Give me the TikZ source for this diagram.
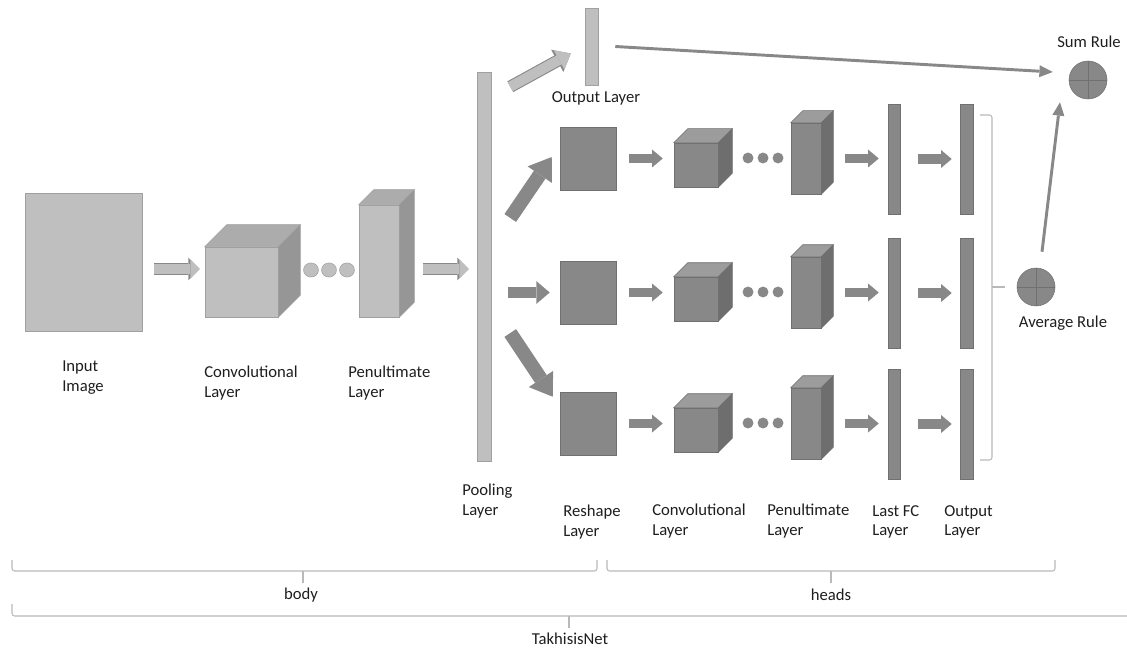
\documentclass[tikz,border=0pt]{standalone}
\usepackage{fontspec}
\setmainfont{Carlito}
\usetikzlibrary{arrows.meta,fit}

\definecolor{lightfill}{RGB}{191,191,191}
\definecolor{lightedge}{RGB}{160,160,160}
\definecolor{lighttop}{RGB}{172,172,172}
\definecolor{lightside}{RGB}{150,150,150}
\definecolor{darkfill}{RGB}{136,136,136}
\definecolor{darkedge}{RGB}{112,112,112}
\definecolor{darktop}{RGB}{156,156,156}
\definecolor{darkside}{RGB}{110,110,110}
\definecolor{bracegray}{RGB}{185,185,185}
\definecolor{labeltext}{RGB}{30,30,30}

% front face is a node, top and side faces hang off its corners
\newcommand{\layercube}[5]{%
  \node[fit={(#2) (#3)}, inner sep=0pt, draw=#5edge, fill=#5fill] (#1) {};
  \filldraw[draw=#5edge, fill=#5top] (#1.north west) -- ([shift={(#4,-#4)}]#1.north west)
    -- ([shift={(#4,-#4)}]#1.north east) -- (#1.north east) -- cycle;
  \filldraw[draw=#5edge, fill=#5side] (#1.north east) -- ([shift={(#4,-#4)}]#1.north east)
    -- ([shift={(#4,-#4)}]#1.south east) -- (#1.south east) -- cycle;
}

\tikzset{
  bodybox/.style={draw=lightedge, fill=lightfill, inner sep=0pt},
  headbox/.style={draw=darkedge, fill=darkfill, inner sep=0pt},
  bodyarrow/.style={draw=lightfill, line width=7pt,
    -{Triangle[width=14.5pt,length=7pt,line width=0pt]},
    preaction={draw=lightedge!85!black, line width=8.6pt,
      -{Triangle[width=17pt,length=8.6pt,line width=0pt]}}},
  toparrow/.style={draw=lightfill, line width=7.6pt,
    -{Triangle[width=16.5pt,length=10pt,line width=0pt]},
    preaction={draw=lightedge!85!black, line width=9.2pt,
      -{Triangle[width=19pt,length=11.5pt,line width=0pt]}}},
  bigarrow/.style={draw=darkfill, line width=10.5pt,
    -{Triangle[width=22pt,length=16pt,line width=0pt]}},
  midarrow/.style={draw=darkfill, line width=8pt,
    -{Triangle[width=17pt,length=10pt,line width=0pt]}},
  headarrow/.style={draw=darkfill, line width=7pt,
    -{Triangle[width=13.5pt,length=8pt,line width=0pt]}},
  rulearrow/.style={draw=darkfill, line width=2.2pt,
    -{Triangle[width=9pt,length=10pt,line width=0pt]}},
  rule/.style={circle, minimum size=28.5pt, inner sep=0pt, draw=darkedge, fill=darkfill},
  brace/.style={draw=bracegray, line width=0.8pt, rounded corners=2pt},
  lbl/.style={font=\fontsize{12.5}{14.5}\selectfont, text=labeltext, inner sep=0pt,
    align=left, anchor=north west},
  lblc/.style={font=\fontsize{12.5}{14.5}\selectfont, text=labeltext, inner sep=0pt}
}

\begin{document}
\begin{tikzpicture}[x=0.75pt, y=-0.75pt]
  \useasboundingbox (0,0) rectangle (1127,649);

  % body
  \node[bodybox, fit={(25,193) (142,331)}] (img) {};
  \layercube{conv}{205,247}{278,317}{22}{light}
  \foreach \cx in {311,329,347}
    \filldraw[fill=lightfill, draw=lightedge] (\cx,270) ellipse [x radius=5.6pt, y radius=5.3pt];
  \layercube{pen}{359,205}{399,317}{15}{light}
  \node[bodybox, fit={(477,72) (491,461)}] (pool) {};
  \node[bodybox, fit={(585,8) (598,85)}] (outtop) {};

  \draw[bodyarrow] ([shift={(12,7)}]img.east) -- ([shift={(-5,-13)}]conv.west);
  \draw[bodyarrow] ([shift={(24,8)}]pen.east) -- ([shift={(-8,2.5)}]pool.west);
  \draw[toparrow] ([shift={(19,15)}]pool.north east) -- ([shift={(-14,7)}]outtop.west);

  % heads
  \foreach \r/\yc in {1/158,2/292,3/423}{
    \node[headbox, fit={(560,\yc-31) (616,\yc+32)}] (reshape\r) {};
    \layercube{hconv\r}{674,\yc-15}{718,\yc+29}{14}{dark}
    \foreach \cx in {748,763,778}
      \fill[darkfill] (\cx,\yc) circle [radius=4.1pt];
    \layercube{hpen\r}{791,\yc-35}{821,\yc+36}{12}{dark}
    \node[headbox, fit={(888,\yc-54) (900,\yc+56)}] (fc\r) {};
    \node[headbox, fit={(960,\yc-54) (973,\yc+56)}] (out\r) {};
    \draw[headarrow] ([xshift=9.75pt]reshape\r.east) -- ([xshift=-8.25pt]reshape\r.east -| hconv\r.west);
    \draw[headarrow] ([xshift=18pt]hpen\r.east) -- ([xshift=-6.75pt]hpen\r.east -| fc\r.west);
    \draw[headarrow] ([xshift=13.5pt]fc\r.east) -- ([xshift=-6pt]fc\r.east -| out\r.west);
  }

  \draw[bigarrow] ([shift={(19,-48.5)}]pool.east) -- ([shift={(-8,-1.5)}]reshape1.west);
  \draw[midarrow] ([xshift=12.75pt]pool.east |- reshape2.west) -- ([xshift=-7.5pt]reshape2.west);
  \draw[bigarrow] ([shift={(19,66.5)}]pool.east) -- ([shift={(-7,5)}]reshape3.north west);

  % fusion
  \node[rule] (sum) at (1088,80) {};
  \draw[darkedge, line width=0.6pt] (sum.north) -- (sum.south) (sum.west) -- (sum.east);
  \node[rule] (avg) at (1036,287) {};
  \draw[darkedge, line width=0.6pt] (avg.north) -- (avg.south) (avg.west) -- (avg.east);
  \draw[rulearrow] ([xshift=12.75pt]outtop.east) -- ([shift={(-16,-8)}]sum.west);
  \draw[rulearrow] ([shift={(6,-16)}]avg.north) -- ([shift={(-28,3)}]sum.south);
  \draw[brace] (980,115) -- (992,115) -- (992,460) -- (980,460);
  \draw[brace] (992,287) -- ([xshift=-9pt]avg.west);

  % labels
  \node[lblc] (outtoplbl) at (596,98) {Output Layer};
  \node[lblc] (sumlbl) at (1089,42) {Sum Rule};
  \node[lblc] (avglbl) at (1063,323) {Average Rule};
  \node[lbl] (imglbl) at (62,361) {Input\\Image};
  \node[lbl] (convlbl) at (204,366) {Convolutional\\Layer};
  \node[lbl] (penlbl) at (348,366) {Penultimate\\Layer};
  \node[lbl] (poollbl) at (462,484) {Pooling\\Layer};
  \node[lbl] (reshapelbl) at (563,505) {Reshape\\Layer};
  \node[lbl] (hconvlbl) at (652,504) {Convolutional\\Layer};
  \node[lbl] (hpenlbl) at (767,504) {Penultimate\\Layer};
  \node[lbl] (fclbl) at (872,505) {Last FC\\Layer};
  \node[lbl] (outlbl) at (944,505) {Output\\Layer};

  % braces at the bottom
  \draw[brace] (12,560) -- (12,571) -- (597,571) -- (597,560);
  \draw[brace] (303,571) -- (303,583);
  \node[lblc] (bodylbl) at (301,595) {body};
  \draw[brace] (607,560) -- (607,571) -- (1055,571) -- (1055,560);
  \draw[brace] (831,571) -- (831,583);
  \node[lblc] (headslbl) at (831,595) {heads};
  \draw[brace] (12,604) -- (12,616) -- (1140,616);
  \draw[brace] (569,616) -- (569,628);
  \node[lblc] (netlbl) at (570,639) {TakhisisNet};
\end{tikzpicture}
\end{document}
